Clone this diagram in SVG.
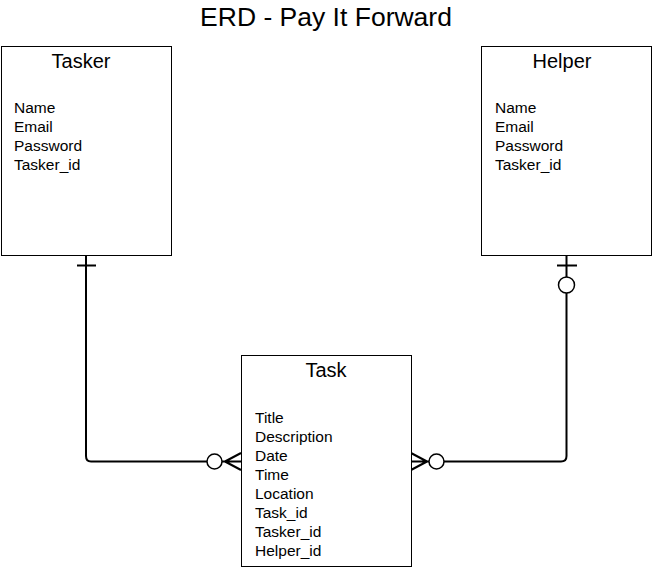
<svg xmlns="http://www.w3.org/2000/svg" width="653" height="578" viewBox="0 0 653 578">
<style>
.box{fill:#fff;stroke:#000;stroke-width:1}
.hd{font-family:"Liberation Sans",Arial,sans-serif;font-size:20px;text-anchor:middle;fill:#000}
.at{font-family:"Liberation Sans",Arial,sans-serif;font-size:15.5px;fill:#000}
.ttl{font-family:"Liberation Sans",Arial,sans-serif;font-size:26.5px;text-anchor:middle;fill:#000}
.ln{fill:none;stroke:#000;stroke-width:2}
.ci{fill:#fff;stroke:#000;stroke-width:1.5}
</style>
<rect width="653" height="578" fill="#fff"/>
<text class="ttl" x="326" y="26">ERD - Pay It Forward</text>
<g id="connectors">
<path class="ln" d="M86,255 V456 Q86,461.5 91,461.5 H207"/>
<line class="ln" x1="77" y1="265.5" x2="96" y2="265.5"/>
<circle class="ci" cx="214.5" cy="461.5" r="7.5"/>
<path class="ln" d="M222,461.5 H241 M225,461.5 L241,453 M225,461.5 L241,470"/>
<path class="ln" d="M566.5,255 V456 Q566.5,461.5 561,461.5 H444"/>
<line class="ln" x1="557" y1="265.5" x2="577" y2="265.5"/>
<circle class="ci" cx="566.5" cy="285" r="8"/>
<circle class="ci" cx="436.5" cy="461.5" r="7.5"/>
<path class="ln" d="M429,461.5 H411 M427,461.5 L411,453 M427,461.5 L411,470"/>
</g>
<g id="tasker">
<rect class="box" x="1.5" y="46.5" width="170" height="209"/>
<text class="hd" x="81" y="68">Tasker</text>
<text class="at" x="14" y="113">Name</text>
<text class="at" x="14" y="132">Email</text>
<text class="at" x="14" y="151">Password</text>
<text class="at" x="14" y="170">Tasker_id</text>
</g>
<g id="helper">
<rect class="box" x="481.5" y="46.5" width="170" height="209"/>
<text class="hd" x="562" y="68">Helper</text>
<text class="at" x="495" y="113">Name</text>
<text class="at" x="495" y="132">Email</text>
<text class="at" x="495" y="151">Password</text>
<text class="at" x="495" y="170">Tasker_id</text>
</g>
<g id="task">
<rect class="box" x="241.5" y="355.5" width="170" height="211"/>
<text class="hd" x="326" y="377">Task</text>
<text class="at" x="255" y="423">Title</text>
<text class="at" x="255" y="442">Description</text>
<text class="at" x="255" y="461">Date</text>
<text class="at" x="255" y="480">Time</text>
<text class="at" x="255" y="499">Location</text>
<text class="at" x="255" y="518">Task_id</text>
<text class="at" x="255" y="537">Tasker_id</text>
<text class="at" x="255" y="556">Helper_id</text>
</g>
</svg>
